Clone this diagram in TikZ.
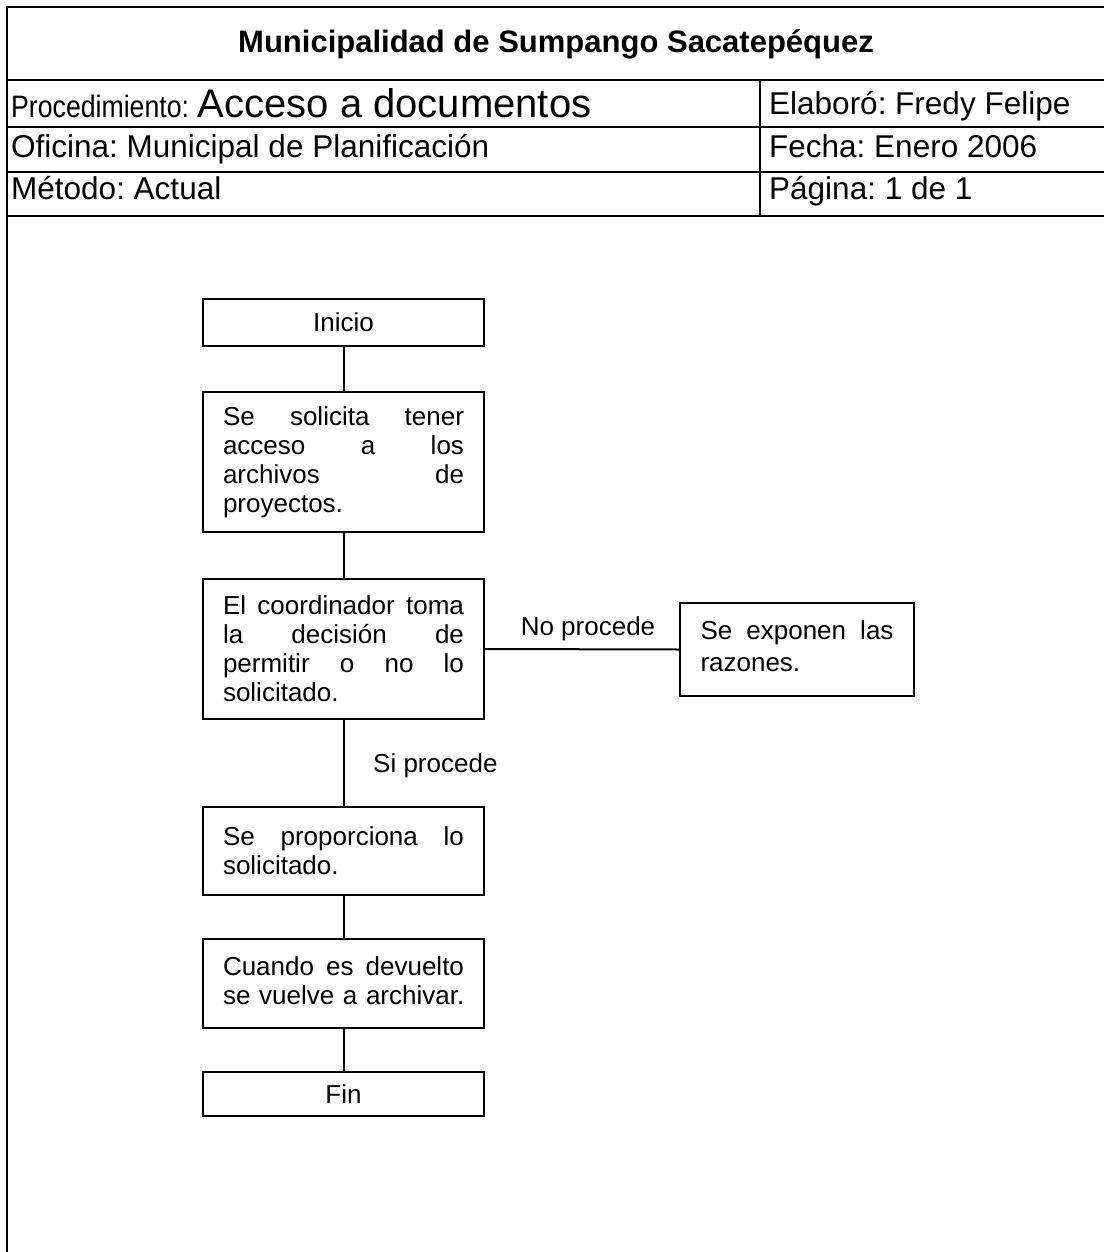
\documentclass[tikz,border=0pt]{standalone}
\usepackage{fontspec}
\usepackage{graphicx}
\setmainfont{Liberation Sans}
\frenchspacing
% a fully justified line and a flush-left line of a given width
\newcommand{\jline}[2]{\hbox to #1{#2}}
\newcommand{\lline}[2]{\hbox to #1{#2\hfil}}
\begin{document}
\begin{tikzpicture}[x=1pt,y=-1pt,
  frame/.style={line width=2.8pt},
  hdtext/.style={anchor=base west, inner sep=0pt, font=\fontsize{31.5}{34}\selectfont},
  box/.style={draw, line width=2.2pt, rectangle, minimum width=281pt,
    inner xsep=20pt, inner ysep=0pt, font=\fontsize{26}{29}\selectfont},
  textbox/.style={box, text width=241pt, align=left},
  link/.style={line width=2pt},
  lbl/.style={inner sep=0pt, font=\fontsize{26}{29}\selectfont}]
\useasboundingbox (0,0) rectangle (1103,1252);

% header frame
\draw[frame] (7,1260) -- (7,7) -- (1110,7);
\draw[frame] (7,80) -- (1110,80);
\draw[frame] (7,127) -- (1110,127);
\draw[frame] (7,172) -- (1110,172);
\draw[frame] (7,216) -- (1110,216);
\draw[frame] (760,80) -- (760,216);

% header texts
\node[anchor=base, inner sep=0pt, font=\bfseries\fontsize{31}{34}\selectfont] (title) at (556,53)
  {Municipalidad de Sumpango Sacatepéquez};
\node[hdtext] (proc) at (11,118)
  {\scalebox{0.86}[1]{\fontsize{31}{34}\selectfont Procedimiento:}
   {\fontsize{40}{42}\selectfont Acceso a documentos}};
\node[hdtext] (ofic) at (11,158) {Oficina: Municipal de Planificación};
\node[hdtext] (meto) at (11,200) {Método: Actual};
\node[hdtext] (elab) at (769,115) {Elaboró: Fredy Felipe};
\node[hdtext] (fech) at (769,158) {Fecha: Enero 2006};
\node[hdtext] (pagi) at (769,200) {Página: 1 de 1};

% flow boxes
\node[box, minimum height=47pt] (ini) at (343.5,322.5) {Inicio};
\node[textbox, minimum height=140pt] (b2) at (343.5,462)
  {\jline{241pt}{Se\hfil solicita\hfil tener}
   \jline{241pt}{acceso\hfil a\hfil los}
   \jline{241pt}{archivos\hfil de}
   \lline{241pt}{proyectos.}};
\node[textbox, minimum height=140pt] (b3) at (343.5,649)
  {\jline{241pt}{El\hfil coordinador\hfil toma}
   \jline{241pt}{la\hfil decisión\hfil de}
   \jline{241pt}{permitir\hfil o\hfil no\hfil lo}
   \lline{241pt}{solicitado.}};
\node[box, minimum width=234pt, minimum height=93pt, text width=193pt, align=left,
  font=\fontsize{26}{32}\selectfont] (raz) at (797,649.5)
  {\jline{193pt}{Se\hfil exponen\hfil las}
   \lline{193pt}{razones.}\vspace{6pt}};
\node[textbox, minimum height=88pt] (b4) at (343.5,851)
  {\jline{241pt}{Se\hfil proporciona\hfil lo}
   \lline{241pt}{solicitado.}};
\node[textbox, minimum height=89pt] (b5) at (343.5,983.5)
  {\jline{241pt}{Cuando\hfil es\hfil devuelto}
   \lline{241pt}{se vuelve a archivar.}\vspace{5pt}};
\node[box, minimum height=44pt] (fin) at (343.5,1094) {Fin};

% connectors
\draw[link] (ini.south) -- (b2.north);
\draw[link] (b2.south) -- (b3.north);
\draw[link] (b3.south) -- (b4.north);
\draw[link] (b4.south) -- (b5.north);
\draw[link] (b5.south) -- (fin.north);
\draw[link] (b3.east) -- (raz.west);

% branch labels
\node[lbl, anchor=base] (nop) at (588,635) {No procede};
\node[lbl, anchor=base west] (sip) at (373,772) {Si procede};
\end{tikzpicture}
\end{document}
